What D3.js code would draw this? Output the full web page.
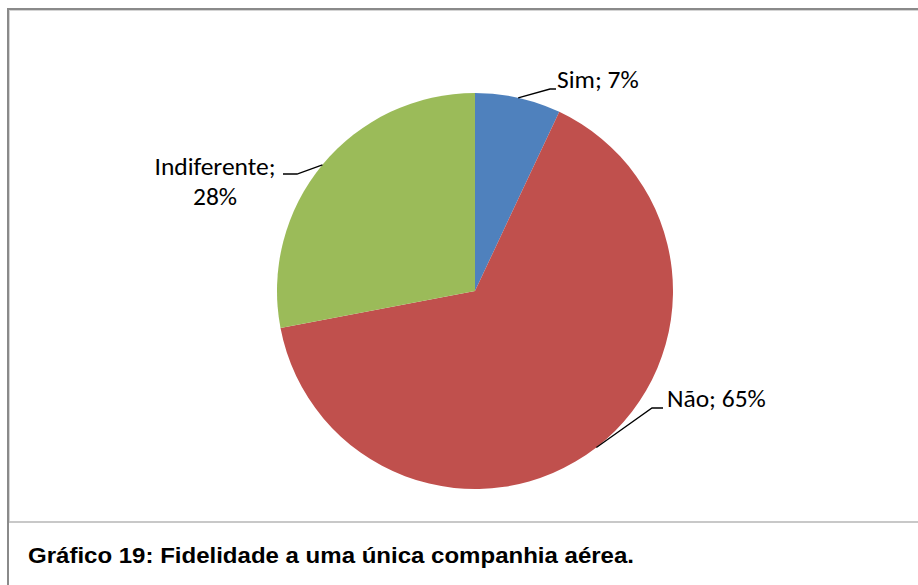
<!DOCTYPE html>
<html>
<head>
<meta charset="utf-8">
<script src="https://cdn.jsdelivr.net/npm/d3@7"></script>
<style>
  body { margin: 0; background: #fff; }
  .lbl { font-family: Calibri, Carlito, Lato, "Noto Sans", sans-serif; font-size: 25.5px; fill: #000; }
  .caption { font-family: "Liberation Sans Narrow", "Arial Narrow", "Liberation Sans", Arial, sans-serif;
             font-weight: bold; font-size: 22px; fill: #000; }
</style>
</head>
<body>
<div id="chart-area"></div>
<script>
/*
*    Gráfico 19 - pie chart
*/

// Data
var categories = ["Sim", "Não", "Indiferente"];
var values = [7, 65, 28];
var colors = ["#4F81BD", "#C0504D", "#9BBB59"];
var captionText = "Gráfico 19: Fidelidade a uma única companhia aérea.";

var width = 918, height = 585;
var cx = 475, cy = 291, radius = 198;

var svg = d3.select("#chart-area").append("svg")
    .attr("width", width)
    .attr("height", height);

// Frame (table cell look)
svg.append("line").attr("x1", 7).attr("x2", width).attr("y1", 9).attr("y2", 9)
    .attr("stroke", "#8a8a8a").attr("stroke-width", 2);
svg.append("line").attr("x1", 9).attr("x2", width).attr("y1", 10.5).attr("y2", 10.5)
    .attr("stroke", "#d4d4d4").attr("stroke-width", 1);
svg.append("line").attr("x1", 8).attr("x2", 8).attr("y1", 8).attr("y2", height)
    .attr("stroke", "#8a8a8a").attr("stroke-width", 2);
svg.append("line").attr("x1", 9.5).attr("x2", 9.5).attr("y1", 10).attr("y2", 521)
    .attr("stroke", "#d4d4d4").attr("stroke-width", 1);
svg.append("line").attr("x1", 9).attr("x2", width).attr("y1", 522).attr("y2", 522)
    .attr("stroke", "#c8c8c8").attr("stroke-width", 2);

// Pie
var data = categories.map(function(c, i) { return { name: c, value: values[i], color: colors[i] }; });

var pie = d3.pie().sort(null).value(function(d) { return d.value; });
var arc = d3.arc().innerRadius(0).outerRadius(radius);
var edge = d3.arc().innerRadius(radius).outerRadius(radius);

var g = svg.append("g")
    .attr("transform", "translate(" + cx + "," + cy + ")");

var arcs = pie(data);

g.selectAll("path.slice")
    .data(arcs)
    .enter().append("path")
    .attr("class", "slice")
    .attr("d", arc)
    .attr("fill", function(d) { return d.data.color; });

// Label layout (offsets from pie center)
var labelLayout = {
    "Sim":         { elbow: [75, -202], tail: 6,   text: [82, -203], anchor: "start" },
    "Não":         { elbow: [177, 117], tail: 11,  text: [192, 116], anchor: "start" },
    "Indiferente": { elbow: [-178, -117], tail: -14, text: [-260, -116], anchor: "middle", wrap: true }
};

arcs.forEach(function(d) {
    var L = labelLayout[d.data.name];
    var p0 = edge.centroid(d);
    var p1 = L.elbow;
    var p2 = [p1[0] + L.tail, p1[1]];

    g.append("polyline")
        .attr("points", [p0, p1, p2].map(function(p) { return p.join(","); }).join(" "))
        .attr("fill", "none")
        .attr("stroke", "#000")
        .attr("stroke-width", 1.3);

    var label = d.data.name + ";";
    var pct = d.data.value + "%";
    var t = g.append("text")
        .attr("class", "lbl")
        .attr("x", L.text[0])
        .attr("y", L.text[1])
        .style("text-anchor", L.anchor);
    if (L.wrap) {
        t.append("tspan").attr("x", L.text[0]).text(label);
        t.append("tspan").attr("x", L.text[0]).attr("dy", 30).text(pct);
    } else {
        t.text(label + " " + pct);
    }
});

// Caption
svg.append("text")
    .attr("class", "caption")
    .attr("x", 28)
    .attr("y", 563)
    .attr("textLength", 606)
    .attr("lengthAdjust", "spacingAndGlyphs")
    .text(captionText);
</script>
</body>
</html>
